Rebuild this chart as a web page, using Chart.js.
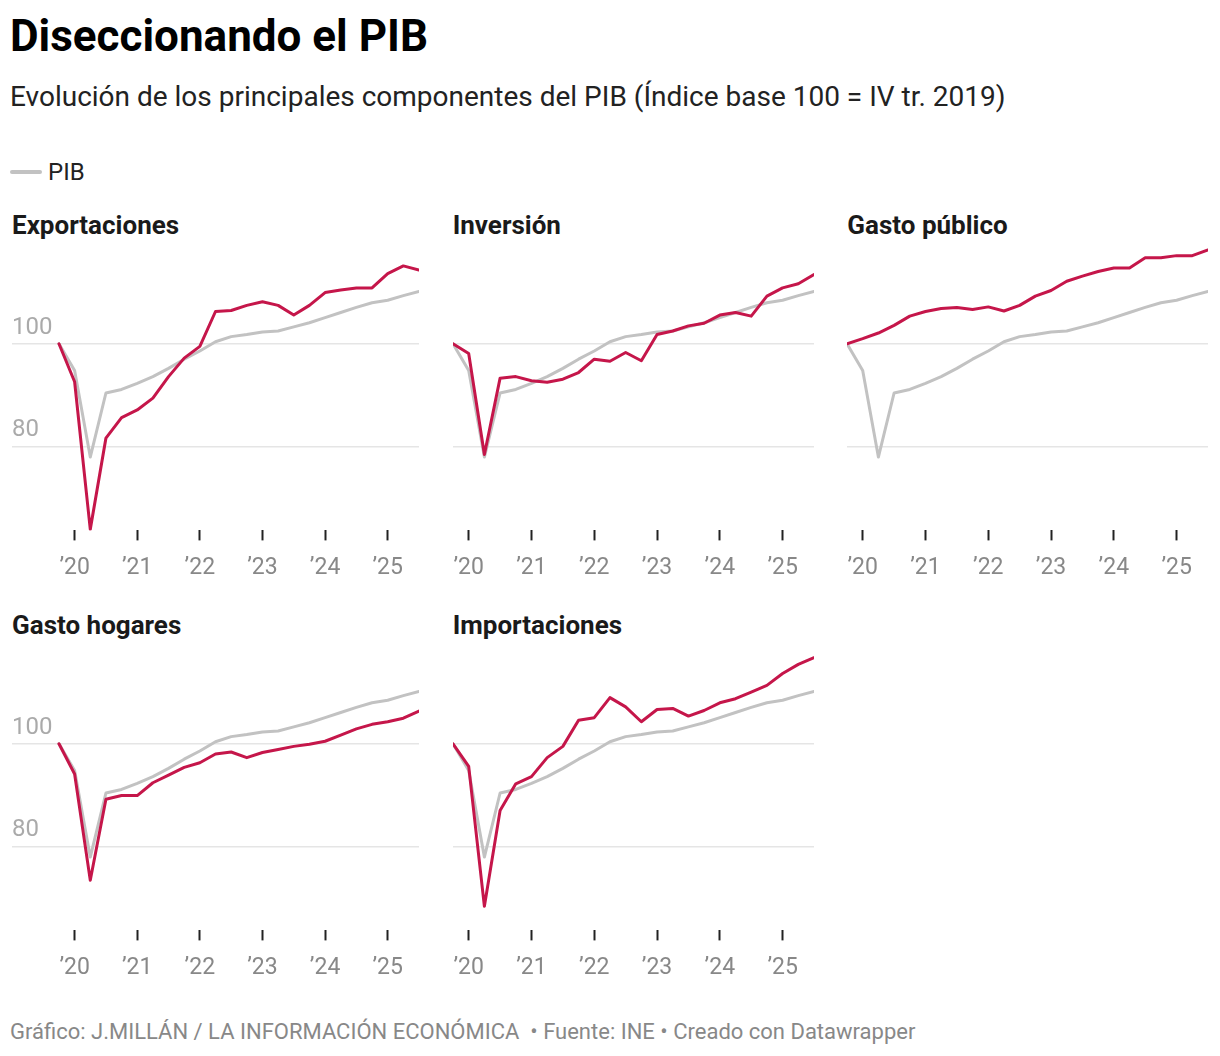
<!DOCTYPE html>
<html lang="es">
<head>
<meta charset="utf-8">
<title>Diseccionando el PIB</title>
<script src="https://cdn.jsdelivr.net/npm/chart.js@4.4.1/dist/chart.umd.min.js"></script>
<style>
    body { margin: 0; background: #fff; font-family: Roboto, "Noto Sans", sans-serif; }
    #page { position: relative; width: 1220px; height: 1056px; overflow: hidden; }
    .txt { position: absolute; margin: 0; white-space: nowrap; }
    #title { left: 10px; top: 13.6px; font-size: 44px; line-height: 44px; font-weight: 700; color: #000; }
    #subtitle { left: 10px; top: 83.4px; font-size: 28px; line-height: 28px; color: #222; }
    #legend { left: 10px; top: 160.3px; font-size: 24px; line-height: 24px; color: #222; }
    #legend span.key { display: inline-block; width: 32px; height: 4px; border-radius: 2px; background: #c2c2c2; vertical-align: middle; margin-right: 6px; position: relative; top: -2px; }
    .ptitle { font-size: 26px; line-height: 26px; font-weight: 700; color: #1a1a1a; }
    #footer { left: 10px; top: 1021.3px; font-size: 22px; line-height: 22px; color: #888; }
    canvas { position: absolute; }
</style>
</head>
<body>
<div id="page">
    <h1 class="txt" id="title">Diseccionando el PIB</h1>
    <p class="txt" id="subtitle">Evolución de los principales componentes del PIB (Índice base 100 = IV tr. 2019)</p>
    <div class="txt" id="legend"><span class="key"></span>PIB</div>
    <div id="panels"></div>
    <p class="txt" id="footer">Gráfico: J.MILLÁN / LA INFORMACIÓN ECONÓMICA &nbsp;• Fuente: INE • Creado con Datawrapper</p>
</div>

<script>
const quarters = [
    'IV 2019',
    'I 2020', 'II 2020', 'III 2020', 'IV 2020',
    'I 2021', 'II 2021', 'III 2021', 'IV 2021',
    'I 2022', 'II 2022', 'III 2022', 'IV 2022',
    'I 2023', 'II 2023', 'III 2023', 'IV 2023',
    'I 2024', 'II 2024', 'III 2024', 'IV 2024',
    'I 2025', 'II 2025', 'III 2025'
];

// first quarter of each year -> tick
const yearTickIndex = [1, 5, 9, 13, 17, 21];
const yearLabels = ['\u201920', '\u201921', '\u201922', '\u201923', '\u201924', '\u201925'];
const yTicks = [80, 100];

const pib = [100, 94.8, 77.9, 90.4, 91.1, 92.3, 93.6, 95.2, 97.0, 98.6, 100.4, 101.4, 101.8, 102.3, 102.5, 103.3, 104.1, 105.1, 106.1, 107.1, 108.0, 108.5, 109.4, 110.2];
const exportaciones = [100, 92.6, 63.8, 81.6, 85.6, 87.1, 89.4, 93.6, 97.2, 99.5, 106.3, 106.5, 107.5, 108.2, 107.5, 105.6, 107.5, 110.0, 110.5, 110.9, 110.9, 113.7, 115.2, 114.4];
const inversion = [100, 98.1, 78.4, 93.3, 93.6, 92.8, 92.5, 93.1, 94.4, 97.0, 96.6, 98.3, 96.7, 101.8, 102.5, 103.5, 104.0, 105.6, 106.1, 105.4, 109.3, 110.9, 111.7, 113.5];
const gastoPublico = [100, 101.0, 102.1, 103.6, 105.4, 106.3, 106.9, 107.1, 106.7, 107.2, 106.4, 107.5, 109.3, 110.4, 112.2, 113.2, 114.1, 114.8, 114.8, 116.8, 116.8, 117.2, 117.2, 118.3];
const gastoHogares = [100, 94.1, 73.4, 89.2, 89.9, 89.9, 92.4, 93.9, 95.4, 96.3, 98.0, 98.4, 97.3, 98.3, 98.9, 99.5, 99.9, 100.5, 101.7, 102.9, 103.8, 104.3, 105.0, 106.4];
const importaciones = [100, 95.6, 68.3, 87.0, 92.2, 93.6, 97.3, 99.5, 104.6, 105.1, 109.0, 107.2, 104.3, 106.7, 106.9, 105.4, 106.5, 108.0, 108.8, 110.1, 111.4, 113.7, 115.5, 116.8];

const RED = '#c5164a';
const GREY = '#c2c2c2';

// layout of the small multiples
const panels = [
    { title: 'Exportaciones', values: exportaciones, col: 0, row: 0 },
    { title: 'Inversión',     values: inversion,     col: 1, row: 0 },
    { title: 'Gasto público', values: gastoPublico,  col: 2, row: 0 },
    { title: 'Gasto hogares', values: gastoHogares,  col: 0, row: 1 },
    { title: 'Importaciones', values: importaciones, col: 1, row: 1 }
];

const colLeft = [12, 452.7, 847.3];
const colWidth = [407, 361, 361];
const PAD_TOP = 14;

function toPoints(arr)
{
    return arr.map((v, i) => ({ x: i, y: v }));
}

function makePanel(p)
{
    const holder = document.getElementById('panels');
    const rowShift = p.row * 400;

    const h = document.createElement('div');
    h.className = 'txt ptitle';
    h.textContent = p.title;
    h.style.left = colLeft[p.col] + 'px';
    h.style.top = (212.3 + rowShift) + 'px';
    holder.appendChild(h);

    const canvas = document.createElement('canvas');
    canvas.width = colWidth[p.col];
    canvas.height = 364;
    canvas.style.left = colLeft[p.col] + 'px';
    canvas.style.top = (245.85 - PAD_TOP + rowShift) + 'px';
    holder.appendChild(canvas);

    const firstCol = p.col === 0;

    new Chart(canvas.getContext('2d'), {
        type: 'line',
        data: {
            datasets: [
                {
                    label: p.title,
                    data: toPoints(p.values),
                    borderColor: RED,
                    borderWidth: 3
                },
                {
                    label: 'PIB',
                    data: toPoints(pib),
                    borderColor: GREY,
                    borderWidth: 3
                }
            ]
        },
        options: {
            responsive: false,
            animation: false,
            devicePixelRatio: 1,
            layout: { padding: { top: PAD_TOP, left: 0, right: 0, bottom: 0 } },
            elements: {
                point: { radius: 0, hoverRadius: 0 },
                line: { tension: 0, borderJoinStyle: 'round', borderCapStyle: 'round' }
            },
            plugins: {
                legend: { display: false },
                tooltip: {
                    callbacks: {
                        title: (items) => quarters[items[0].parsed.x],
                        label: (ctx) => `${ctx.dataset.label}: ${ctx.parsed.y.toFixed(1)}`
                    }
                }
            },
            scales: {
                x: {
                    type: 'linear',
                    min: firstCol ? -3 : 0,
                    max: quarters.length - 1,
                    afterBuildTicks: (axis) => { axis.ticks = yearTickIndex.map(v => ({ value: v })); },
                    // labels may hang over the edge, like the original
                    afterFit: (axis) => { axis.paddingLeft = 0; axis.paddingRight = 0; },
                    border: { display: false },
                    grid: {
                        drawOnChartArea: false,
                        drawTicks: true,
                        tickLength: 10,
                        tickWidth: 2,
                        tickColor: '#222'
                    },
                    ticks: {
                        autoSkip: false,
                        maxRotation: 0,
                        padding: 14,
                        color: '#888',
                        font: { family: 'Roboto', size: 23 },
                        callback: (value) => yearLabels[yearTickIndex.indexOf(value)]
                    }
                },
                y: {
                    min: 63.6,
                    max: 119,
                    afterBuildTicks: (axis) => { axis.ticks = yTicks.map(v => ({ value: v })); },
                    border: { display: false },
                    grid: {
                        drawTicks: false,
                        color: '#e5e5e5',
                        lineWidth: 1.5
                    },
                    ticks: {
                        mirror: true,
                        padding: 0,
                        labelOffset: -16,
                        color: firstCol ? '#aaa' : 'rgba(0,0,0,0)',
                        font: { family: 'Roboto', size: 24 }
                    }
                }
            }
        }
    });
}

panels.forEach(makePanel);
</script>
</body>
</html>
